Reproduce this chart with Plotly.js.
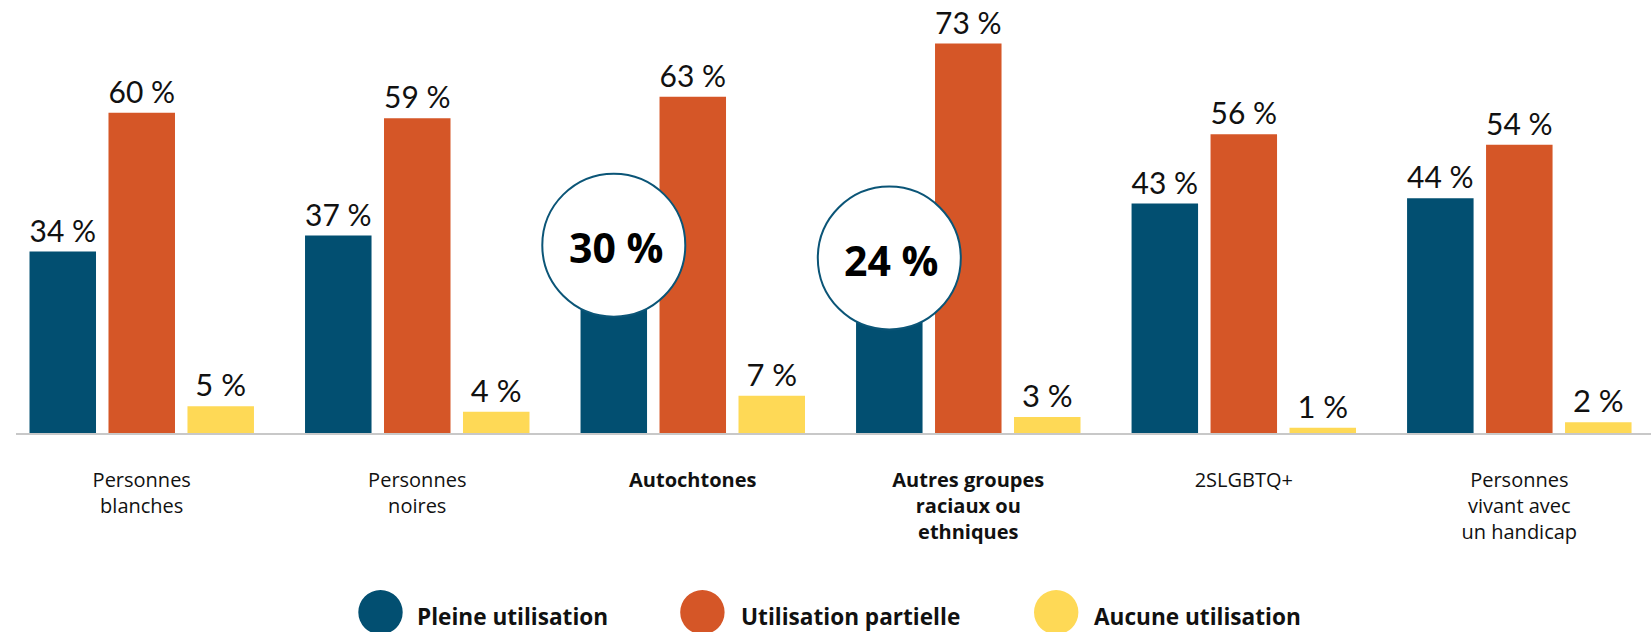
<!DOCTYPE html>
<html>
<head>
<meta charset="utf-8">
<script src="https://cdn.plot.ly/plotly-3.0.1.min.js"></script>
<style>
  html, body { margin: 0; padding: 0; background: #ffffff; }
  #chart { width: 1651px; height: 632px; }
</style>
</head>
<body>
<div id="chart"></div>
<script>
// ---- Data ----
const categories = [
  "Personnes blanches",
  "Personnes noires",
  "Autochtones",
  "Autres groupes raciaux ou ethniques",
  "2SLGBTQ+",
  "Personnes vivant avec un handicap"
];
const tickLabels = [
  "Personnes<br>blanches",
  "Personnes<br>noires",
  "<b>Autochtones</b>",
  "<b>Autres groupes</b><br><b>raciaux ou</b><br><b>ethniques</b>",
  "2SLGBTQ+",
  "Personnes<br>vivant avec<br>un handicap"
];
const seriesNames = ["Pleine utilisation", "Utilisation partielle", "Aucune utilisation"];
const pleine   = [34, 37, 30, 24, 43, 44];
const partielle = [60, 59, 63, 73, 56, 54];
const aucune   = [5, 4, 7, 3, 1, 2];
const highlightCats = ["Autochtones", "Autres groupes raciaux ou ethniques"];
const highlightValues = [30, 24];

// ---- Styles ----
const colors = ["#024f71", "#d55627", "#fed956"];
const FONT = "Lato, 'Open Sans', sans-serif";
const FONT2 = "'Open Sans', Lato, sans-serif";
const W = 1651, H = 632;
const M = {l: 16, r: 0, t: 0, b: 199};
const BARGAP = 0.14, BARGROUPGAP = 0.158;
const XR = [-0.4564, 5.478];
const YR = [0, 81.15];

const seriesValues = [pleine, partielle, aucune];
const traces = seriesValues.map((vals, i) => ({
  type: "bar",
  name: seriesNames[i],
  x: categories,
  y: vals,
  marker: {color: colors[i]},
  text: vals.map((v, j) => (i === 0 && highlightCats.includes(categories[j])) ? "" : v + " %"),
  textposition: "outside",
  textfont: {family: FONT, size: 31, color: "#111111"},
  cliponaxis: false,
  hoverinfo: "skip",
  showlegend: false
}));

// helpers for annotation positions
const plotW = W - M.l - M.r, plotH = H - M.t - M.b;
const pxToPaperX = px => (px - M.l) / plotW;
const pxToPaperY = py => (H - M.b - py) / plotH;
const slot = (1 - BARGAP) / 3;

const shapes = [];
const annotations = [];

// highlight circles over the "Pleine utilisation" bars
const circleY = [35.2, 32.8];
highlightCats.forEach((cat, k) => {
  const idx = categories.indexOf(cat);
  const xc = idx - slot;
  shapes.push({
    type: "circle", xref: "x", yref: "y",
    xsizemode: "pixel", ysizemode: "pixel",
    xanchor: xc, yanchor: circleY[k],
    x0: -71.5, x1: 71.5, y0: -71.5, y1: 71.5,
    fillcolor: "#ffffff",
    line: {color: "#0b5577", width: 2},
    layer: "above"
  });
  annotations.push({
    xref: "x", yref: "y", x: xc, y: circleY[k],
    text: "<b>" + highlightValues[k] + " %</b>",
    showarrow: false, xanchor: "center", yanchor: "middle",
    xshift: 2, yshift: -2,
    font: {family: FONT2, size: 41, color: "#000000"}
  });
});

// custom legend (large circular swatches)
const legendCircleX = [380.5, 702.4, 1056.2];
const legendTextX = [415, 738.5, 1091.5];
seriesNames.forEach((name, i) => {
  shapes.push({
    type: "circle", xref: "paper", yref: "paper",
    xsizemode: "pixel", ysizemode: "pixel",
    xanchor: pxToPaperX(legendCircleX[i]), yanchor: pxToPaperY(612.2),
    x0: -22.2, x1: 22.2, y0: -22.2, y1: 22.2,
    fillcolor: colors[i], line: {width: 0}
  });
  annotations.push({
    xref: "paper", yref: "paper",
    x: pxToPaperX(legendTextX[i]), y: pxToPaperY(616),
    xanchor: "left", yanchor: "middle",
    text: "<b>" + name + "</b>", showarrow: false,
    font: {family: FONT2, size: 22.6, color: "#111111"}
  });
});

const layout = {
  width: W, height: H,
  margin: M,
  paper_bgcolor: "#ffffff", plot_bgcolor: "#ffffff",
  barmode: "group",
  bargap: BARGAP, bargroupgap: BARGROUPGAP,
  showlegend: false,
  font: {family: FONT2, color: "#111111"},
  xaxis: {
    type: "category",
    range: XR,
    tickmode: "array",
    tickvals: categories,
    ticktext: tickLabels,
    tickfont: {family: FONT2, size: 20, color: "#111111"},
    ticks: "",
    ticklabelstandoff: 28,
    showline: true, linecolor: "#c8c8c8", linewidth: 2,
    showgrid: false, zeroline: false, fixedrange: true
  },
  yaxis: {
    range: YR,
    showticklabels: false, showgrid: false, zeroline: false,
    showline: false, ticks: "", fixedrange: true
  },
  shapes: shapes,
  annotations: annotations
};

Plotly.newPlot("chart", traces, layout, {displayModeBar: false, staticPlot: true});
</script>
</body>
</html>
